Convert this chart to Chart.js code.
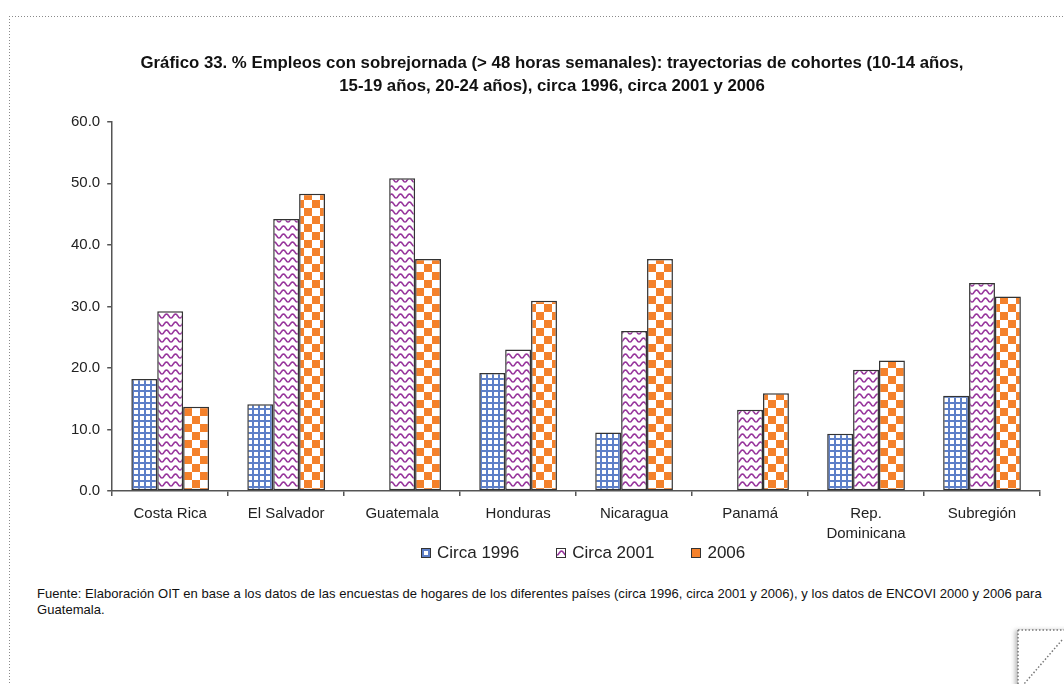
<!DOCTYPE html>
<html lang="es">
<head>
    <meta charset="UTF-8">
    <title>Gráfico 33</title>
    <script src="https://cdn.jsdelivr.net/npm/chart.js@4"></script>
    <style>
        html, body { margin: 0; padding: 0; background: #fff; }
        body { width: 1064px; height: 684px; position: relative; overflow: hidden; font-family: "Liberation Sans", Arial, sans-serif; }
        .dots-h { position: absolute; left: 9px; top: 16px; width: 1055px; height: 1px;
            background: repeating-linear-gradient(to right, #8a8a8a 0 1px, transparent 1px 3px); }
        .dots-v { position: absolute; left: 9px; top: 16px; width: 1px; height: 668px;
            background: repeating-linear-gradient(to bottom, #8a8a8a 0 1px, transparent 1px 3px); }
        #chartBox { position: absolute; left: 0; top: 0; width: 1064px; height: 554px; }
        #legend { position: absolute; left: 421px; top: 543px; display: flex; align-items: center; }
        .legend-item { display: flex; align-items: center; margin-right: 37px; font-size: 17px; color: #222; white-space: nowrap; }
        .legend-item .swatch { width: 8px; height: 8px; border: 1px solid #333; margin-right: 6px; }
        #fuente { position: absolute; left: 37px; top: 586px; width: 1024px; font-size: 13px; line-height: 16px; color: #111; letter-spacing: 0.05px; }
        #fold { position: absolute; left: 1006px; top: 622px; }
    </style>
</head>
<body>
    <div class="dots-h"></div>
    <div class="dots-v"></div>

    <div id="chartBox"><canvas id="chart33"></canvas></div>
    <div id="legend"></div>

    <div id="fuente">Fuente: Elaboración OIT en base a los datos de las encuestas de hogares de los diferentes países (circa 1996, circa 2001 y 2006), y los datos de ENCOVI 2000 y 2006 para<br>Guatemala.</div>

    <svg id="fold" width="58" height="62">
        <defs>
            <filter id="soft"><feGaussianBlur stdDeviation="2"/></filter>
        </defs>
        <rect x="9" y="8" width="60" height="60" fill="#bbb" filter="url(#soft)"/>
        <rect x="12" y="8" width="60" height="60" fill="#fff"/>
        <path d="M12 8 H58 M12 8 V62 M56 18 L18 62" stroke="#777" stroke-width="1.5" stroke-dasharray="1.5 2" fill="none"/>
    </svg>

    <script>
        const categories = ['Costa Rica', 'El Salvador', 'Guatemala', 'Honduras', 'Nicaragua', 'Panamá', ['Rep.', 'Dominicana'], 'Subregión'];
        const seriesNames = ['Circa 1996', 'Circa 2001', '2006'];
        const circa1996 = [18.2, 14.1, null, 19.2, 9.5, null, 9.3, 15.5];
        const circa2001 = [29.2, 44.2, 50.8, 23.0, 26.0, 13.2, 19.7, 33.8];
        const data2006 = [13.7, 48.3, 37.7, 30.9, 37.7, 15.9, 21.2, 31.6];
        const yMin = 0, yMax = 60, yStep = 10;
        const titleLines = [
            'Gráfico 33. % Empleos con sobrejornada (> 48 horas semanales): trayectorias de cohortes (10-14 años,',
            '15-19 años, 20-24 años), circa 1996, circa 2001 y 2006'
        ];

        // small tiles used as bar fills
        function makeTile(w, h, paint) {
            const c = document.createElement('canvas');
            c.width = w;
            c.height = h;
            const g = c.getContext('2d');
            g.fillStyle = '#fff';
            g.fillRect(0, 0, w, h);
            paint(g, w, h);
            return c;
        }

        const gridTile = makeTile(6, 6, g => {
            g.fillStyle = '#5d7fc8';
            g.fillRect(0, 0, 6, 2);
            g.fillRect(0, 0, 2, 6);
        });

        const waveTile = makeTile(9, 8, (g, w) => {
            g.strokeStyle = '#96349b';
            g.lineWidth = 1.6;
            g.beginPath();
            for (let x = -1; x <= w + 1; x += 0.5) {
                const y = 4 + 2 * Math.cos(2 * Math.PI * x / w);
                if (x === -1) g.moveTo(x, y); else g.lineTo(x, y);
            }
            g.stroke();
        });

        const checkTile = makeTile(16, 16, g => {
            g.fillStyle = '#f4812b';
            g.fillRect(0, 0, 8, 8);
            g.fillRect(8, 8, 8, 8);
        });

        const tiles = [gridTile, waveTile, checkTile];
        const ctx = document.getElementById('chart33').getContext('2d');
        const fills = tiles.map(t => ctx.createPattern(t, 'repeat'));

        const htmlLegend = {
            id: 'htmlLegend',
            afterUpdate(chart) {
                const box = document.getElementById('legend');
                box.innerHTML = '';
                chart.data.datasets.forEach((ds, i) => {
                    const item = document.createElement('div');
                    item.className = 'legend-item';
                    const sw = document.createElement('span');
                    sw.className = 'swatch';
                    sw.style.backgroundImage = 'url(' + tiles[i].toDataURL() + ')';
                    item.appendChild(sw);
                    item.appendChild(document.createTextNode(ds.label));
                    box.appendChild(item);
                });
            }
        };

        const axisColor = '#555';
        const tickFont = { family: '"Liberation Sans", Arial, sans-serif', size: 15 };

        new Chart(ctx, {
            type: 'bar',
            data: {
                labels: categories,
                datasets: [circa1996, circa2001, data2006].map((values, i) => ({
                    label: seriesNames[i],
                    data: values,
                    backgroundColor: fills[i],
                    borderColor: '#333',
                    borderWidth: 1.5,
                    borderSkipped: false,
                    categoryPercentage: 0.67,
                    barPercentage: 1.0
                }))
            },
            options: {
                responsive: true,
                maintainAspectRatio: false,
                animation: false,
                layout: { padding: { left: 64, right: 24, top: 0, bottom: 2 } },
                plugins: {
                    legend: { display: false },
                    tooltip: { enabled: false },
                    title: {
                        display: true,
                        text: titleLines,
                        color: '#111',
                        font: { family: '"Liberation Sans", Arial, sans-serif', size: 16.8, weight: 'bold', lineHeight: 1.42 },
                        padding: { top: 51, bottom: 23 }
                    }
                },
                scales: {
                    x: {
                        border: { color: axisColor, width: 1.5 },
                        grid: { display: true, drawOnChartArea: false, drawTicks: true, tickLength: 5, color: axisColor, lineWidth: 1.5, offset: true },
                        ticks: { color: '#222', font: { ...tickFont, lineHeight: 1.33 }, padding: 8, maxRotation: 0, autoSkip: false }
                    },
                    y: {
                        min: yMin,
                        max: yMax,
                        border: { color: axisColor, width: 1.5 },
                        grid: { display: true, drawOnChartArea: false, drawTicks: true, tickLength: 5, color: axisColor, lineWidth: 1.5 },
                        ticks: {
                            stepSize: yStep,
                            color: '#222',
                            font: tickFont,
                            padding: 7,
                            callback: v => v.toFixed(1)
                        }
                    }
                }
            },
            plugins: [htmlLegend]
        });
    </script>
</body>
</html>
